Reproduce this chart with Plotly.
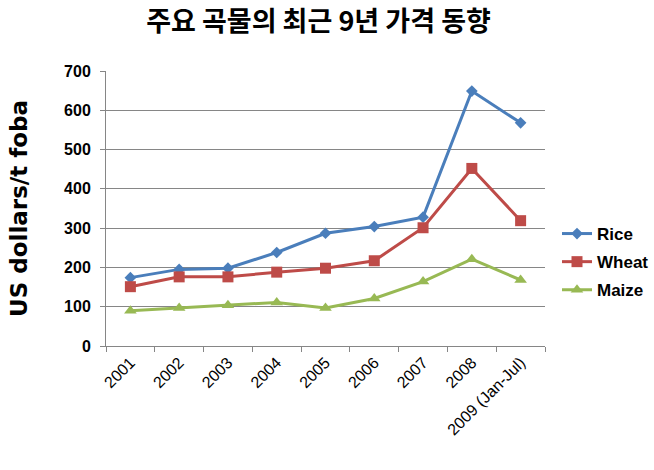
import plotly.graph_objects as go

years = ["2001", "2002", "2003", "2004", "2005", "2006", "2007", "2008", "2009 (Jan-Jul)"]
rice = [174, 195, 198, 238, 287, 304, 328, 649, 568]
wheat = [151, 176, 176, 188, 198, 217, 301, 452, 319]
maize = [90, 97, 104, 111, 97, 121, 164, 221, 168]

series = [
    ("Rice", rice, "#4A7EBB", "diamond", 9),
    ("Wheat", wheat, "#BE4B48", "square", 11),
    ("Maize", maize, "#98B954", "triangle-up", 11),
]

fig = go.Figure()
for i, (name, vals, col, sym, sz) in enumerate(series):
    fig.add_trace(go.Scatter(
        x=years, y=vals, name=f"<b>{name}</b>", mode="lines+markers",
        line=dict(color=col, width=3),
        marker=dict(symbol=sym, size=sz, color=col),
        legendgroup=f"g{i}",
    ))

fig.update_layout(
    width=654, height=470,
    margin=dict(l=106, r=109, t=71, b=124),
    paper_bgcolor="white", plot_bgcolor="white",
    title=dict(text="<b>주요 곡물의 최근 9년 가격 동향</b>",
               font=dict(family="Noto Sans CJK KR", size=27, color="black"),
               x=0.487, xanchor="center", y=0.955, yanchor="middle"),
    xaxis=dict(type="category", range=[-0.5, 8.5], tickson="boundaries",
               ticks="outside", ticklen=5, tickcolor="#868686",
               showline=True, linecolor="#868686", linewidth=1,
               showgrid=False, tickangle=-45,
               tickfont=dict(family="Liberation Sans", size=16, color="black")),
    yaxis=dict(range=[0, 700], dtick=100, ticks="outside", ticklen=5,
               tickcolor="#868686", showline=True, linecolor="#868686",
               showgrid=True, gridcolor="#868686", gridwidth=1, zeroline=False,
               tickfont=dict(family="Liberation Sans", size=16, color="black"),
               tickprefix="<b>", ticksuffix="</b>", ticklabelstandoff=6,
               title=dict(text="<b>US dollars/t foba</b>",
                          font=dict(family="DejaVu Sans", size=23, color="black"),
                          standoff=30)),
    legend=dict(xref="container", x=557 / 654, xanchor="left",
                yref="container", y=(470 - 262) / 470, yanchor="middle",
                traceorder="grouped", tracegroupgap=3, itemwidth=30,
                font=dict(family="Liberation Sans", size=17, color="black"),
                bgcolor="rgba(0,0,0,0)"),
)

fig.write_html("out.html")
